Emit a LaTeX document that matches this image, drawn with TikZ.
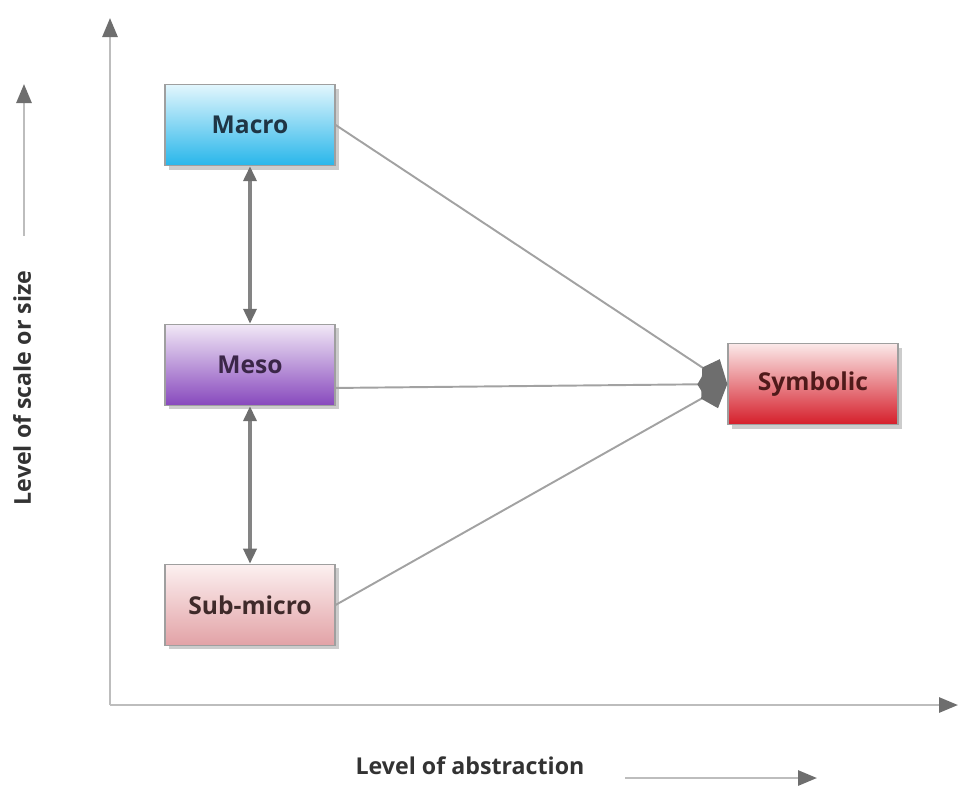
\documentclass[tikz,border=0pt]{standalone}
\usepackage{fontspec}
\setmainfont{Open Sans}
\usepackage{tikz}
\usetikzlibrary{arrows.meta,shadows}

\definecolor{macrotop}{HTML}{E2F6FD}
\definecolor{macrobot}{HTML}{28B6EA}
\definecolor{mesotop}{HTML}{F1E8F6}
\definecolor{mesobot}{HTML}{8748BD}
\definecolor{subtop}{HTML}{FCF0F0}
\definecolor{subbot}{HTML}{E2A2A6}
\definecolor{symtop}{HTML}{FBE9E9}
\definecolor{symbot}{HTML}{D51E2A}
\definecolor{linegray}{HTML}{BDBDBD}
\definecolor{edgegray}{HTML}{A2A2A2}
\definecolor{tipgray}{HTML}{6E6E6E}

\begin{document}
\begin{tikzpicture}[x=0.02cm, y=-0.02cm, node distance=4.8cm,
		main node/.style={draw=gray!75, line width=0.8pt, minimum width=3.4cm, minimum height=1.62cm,
			font=\bfseries\fontsize{14}{16}\selectfont,
			drop shadow={opacity=0.4, shadow xshift=0.08cm, shadow yshift=-0.08cm}},
		axis/.style={draw=linegray, line width=1.6pt, -{Triangle[length=0.38cm, width=0.3cm, color=tipgray]}},
		to sym/.style={draw=edgegray, line width=1.1pt, -{Kite[length=0.6cm, width=0.66cm, inset=0.2cm, color=tipgray]}},
		both way/.style={draw=tipgray!85, line width=2pt, {Triangle[length=0.3cm, width=0.26cm, color=tipgray]}-{Triangle[length=0.3cm, width=0.26cm, color=tipgray]}},
		label/.style={font=\bfseries\fontsize{13.2}{15}\selectfont, text=black!80}]
		\useasboundingbox (0,0) rectangle (959,789);
		
		% the two axes
		\coordinate (o) at (110,705);
		\coordinate (ytop) at (110,18);
		\coordinate (xend) at (958,705);
		\draw[axis] (o) -- (ytop);
		\draw[axis] (o) -- (xend);
		
		\node[main node, top color=macrotop, bottom color=macrobot, text={rgb,255:red,31;green,53;blue,69}] (1) at (250,125) {Macro};
		\node[main node, top color=mesotop, bottom color=mesobot, text={rgb,255:red,59;green,38;blue,72}] (2) [below of=1] {Meso};
		\node[main node, top color=subtop, bottom color=subbot, text={rgb,255:red,63;green,42;blue,42}] (3) [below of=2] {Sub-micro};
		\node[main node, top color=symtop, bottom color=symbot, text={rgb,255:red,79;green,26;blue,26}] (4) at (813,384) {Symbolic};
		
		\path
		(1.east) edge[to sym] (4.west)
		([yshift=-0.46cm]2.east) edge[to sym] (4.west)
		(3.east) edge[to sym] (4.west);
		
		\path
		(1) edge[both way] (2)
		(2) edge[both way] (3);
		
		% axis labels
		\node[label, rotate=90] (ylab) at (22,388) {Level of scale or size};
		\node[label] (xlab) at (470,766) {Level of abstraction};
		\coordinate (ya) at (24,236);
		\coordinate (yb) at (24,84);
		\coordinate (xa) at (625,778);
		\coordinate (xb) at (817,778);
		\draw[axis] (ya) -- (yb);
		\draw[axis] (xa) -- (xb);
\end{tikzpicture}
\end{document}
